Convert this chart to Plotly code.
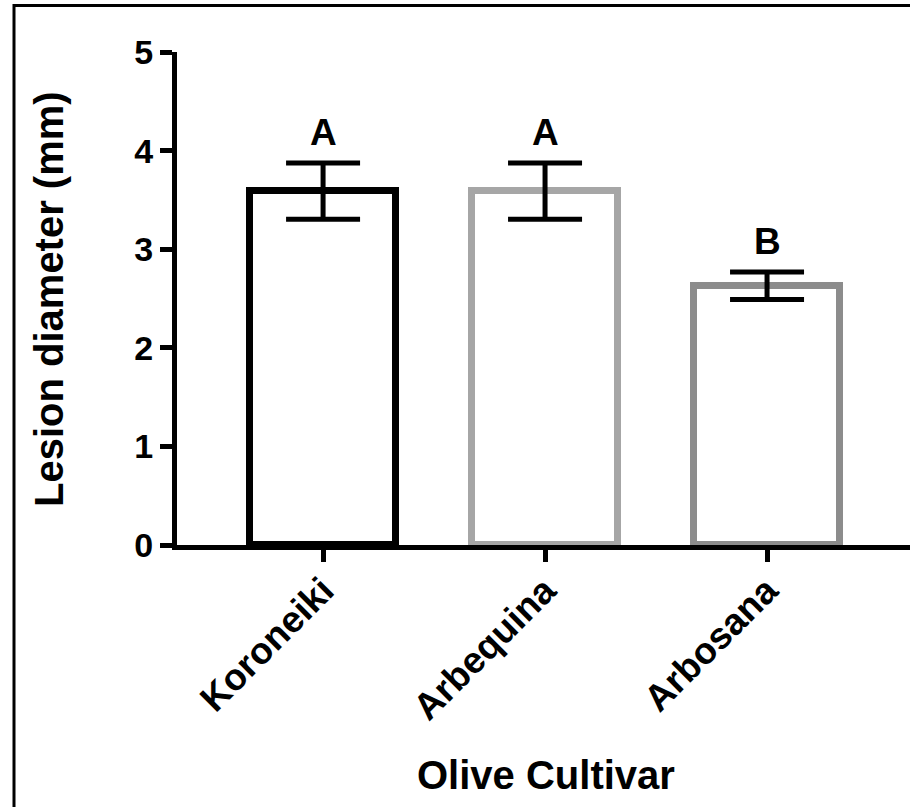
import plotly.graph_objects as go

# ---- data ----
cultivars = ["Koroneiki", "Arbequina", "Arbosana"]
lesion_mean = [3.59, 3.59, 2.63]
lesion_sem = [0.285, 0.285, 0.14]
group_letters = ["A", "A", "B"]
bar_colors = ["#000000", "#a6a6a6", "#8c8c8c"]
y_tick_vals = [0, 1, 2, 3, 4, 5]

# ---- layout geometry ----
W, H = 910, 807
L, R, T, B = 177, 0, 52, 262
pw = W - L - R
ph = H - T - B


def paper_x(px):
    return (px - L) / pw


def paper_y(py):
    return (H - B - py) / ph


FONT = "Liberation Sans, Arial, sans-serif"

fig = go.Figure(
    go.Bar(
        x=cultivars,
        y=lesion_mean,
        width=0.66,
        marker=dict(color="white", line=dict(color=bar_colors, width=7)),
        error_y=dict(
            type="data",
            array=lesion_sem,
            visible=True,
            color="black",
            thickness=5,
            width=37,
        ),
        showlegend=False,
    )
)

# significance letters
for c, m, s, lt in zip(cultivars, lesion_mean, lesion_sem, group_letters):
    fig.add_annotation(
        x=c, y=m + s, text=lt, showarrow=False,
        yanchor="middle", xanchor="center", yshift=30,
        font=dict(family=FONT, size=37, color="black", weight="bold"),
    )

# axis titles
fig.add_annotation(
    xref="paper", yref="paper", x=paper_x(49), y=paper_y(299),
    text="Lesion diameter (mm)", textangle=-90, showarrow=False,
    xanchor="center", yanchor="middle",
    font=dict(family=FONT, size=40, color="black", weight="bold"),
)
fig.add_annotation(
    xref="paper", yref="paper", x=paper_x(546), y=paper_y(775),
    text="Olive Cultivar", showarrow=False,
    xanchor="center", yanchor="middle",
    font=dict(family=FONT, size=40, color="black", weight="bold"),
)

# outer frame
fig.add_shape(
    type="rect", xref="paper", yref="paper",
    x0=paper_x(14), x1=paper_x(925), y0=paper_y(830), y1=paper_y(5.5),
    line=dict(color="black", width=3), fillcolor="rgba(0,0,0,0)", layer="above",
)

fig.update_layout(
    width=W, height=H,
    margin=dict(l=L, r=R, t=T, b=B, autoexpand=False),
    plot_bgcolor="white", paper_bgcolor="white",
    bargap=0,
)
fig.update_xaxes(
    range=[-0.658, 2.644], showgrid=False, zeroline=False,
    showline=True, linecolor="black", linewidth=5,
    ticks="outside", ticklen=12, tickwidth=5, tickcolor="black",
    tickangle=-45, ticklabelstandoff=-8,
    tickfont=dict(family=FONT, size=37, color="black", weight="bold"),
    automargin=False,
)
fig.update_yaxes(
    range=[0, 5], tickvals=y_tick_vals, showgrid=False, zeroline=False,
    showline=True, linecolor="black", linewidth=5,
    ticks="outside", ticklen=12, tickwidth=5, tickcolor="black",
    tickfont=dict(family=FONT, size=34, color="black", weight="bold"),
    automargin=False,
)

fig.write_html("out.html")
